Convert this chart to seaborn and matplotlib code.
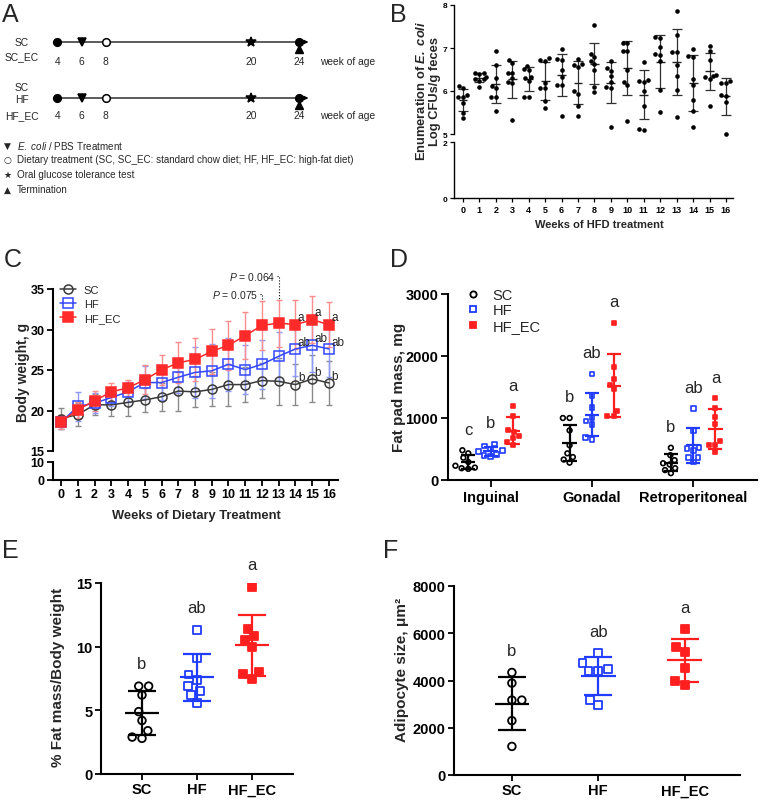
import numpy as np
import pandas as pd
import matplotlib
matplotlib.use("Agg")
import matplotlib.pyplot as plt
from matplotlib.lines import Line2D
import seaborn as sns

sns.set_theme(style="ticks")
plt.rcParams["font.family"] = ["Liberation Sans", "DejaVu Sans"]
plt.rcParams["mathtext.fontset"] = "custom"
plt.rcParams["mathtext.rm"] = "Liberation Sans"
plt.rcParams["mathtext.it"] = "Liberation Sans:italic"
plt.rcParams["mathtext.bf"] = "Liberation Sans:bold"
HAS_BFIT = "mathtext.bfit" in plt.rcParams
if HAS_BFIT:
    plt.rcParams["mathtext.bfit"] = "Liberation Sans:italic:bold"
plt.rcParams["axes.edgecolor"] = "black"
plt.rcParams["xtick.color"] = "black"
plt.rcParams["ytick.color"] = "black"

# ---- data ----
# A: study timeline (week of age)
event_weeks = [4, 6, 8, 20, 24]
event_markers = ["o", "v", "o", "*", "o"]
event_filled = [True, True, False, True, True]
row1_labels = ["SC", "SC_EC"]
row2_labels = ["SC", "HF", "HF_EC"]

# B: fecal E. coli, log CFU/g, per week of HFD
b_weeks = list(range(17))
cfu_w0 = [6.07, 6.11, 5.90, 5.85, 5.87, 5.72, 5.50, 5.37]
cfu_w1 = [6.42, 6.40, 6.41, 6.32, 6.29, 6.28, 6.24, 6.10]
cfu_w2 = [6.92, 6.61, 6.30, 6.12, 6.06, 5.87, 5.87, 5.54]
cfu_w3 = [6.72, 6.64, 6.42, 6.42, 6.30, 6.18, 6.20, 5.33]
cfu_w4 = [6.59, 6.51, 6.49, 6.30, 6.33, 6.24, 5.85, 5.87]
cfu_w5 = [6.71, 6.70, 6.76, 6.18, 6.07, 6.07, 5.76, 5.60]
cfu_w6 = [6.97, 6.74, 6.71, 6.50, 6.33, 6.14, 6.14, 5.41]
cfu_w7 = [6.75, 6.62, 6.60, 6.00, 5.93, 5.66, 5.43, 6.55]
cfu_w8 = [7.53, 6.87, 6.80, 6.62, 6.50, 6.10, 5.98, 6.70]
cfu_w9 = [6.47, 6.69, 6.36, 6.22, 6.09, 6.06, 5.16, 6.53]
cfu_w10 = [7.11, 7.12, 6.92, 6.92, 6.22, 6.14, 5.31, 6.50]
cfu_w11 = [6.68, 6.24, 6.22, 6.01, 5.64, 5.10, 5.12, 6.25]
cfu_w12 = [7.26, 7.24, 7.03, 6.85, 6.84, 6.70, 6.02, 5.52]
cfu_w13 = [7.87, 7.31, 6.90, 6.90, 6.60, 6.36, 6.03, 5.40]
cfu_w14 = [6.98, 6.81, 6.78, 6.28, 6.14, 5.79, 5.54, 5.16]
cfu_w15 = [7.04, 6.92, 6.72, 6.32, 6.37, 6.34, 6.28, 5.64]
cfu_w16 = [6.19, 6.19, 6.24, 5.88, 5.90, 5.74, 5.00]
cfu_by_week = [cfu_w0, cfu_w1, cfu_w2, cfu_w3, cfu_w4, cfu_w5, cfu_w6, cfu_w7, cfu_w8,
               cfu_w9, cfu_w10, cfu_w11, cfu_w12, cfu_w13, cfu_w14, cfu_w15, cfu_w16]

# C: body weight (mean, SD)
c_weeks = list(range(17))
sc_bw = [19.0, 19.5, 20.7, 20.7, 21.0, 21.3, 21.7, 22.4, 22.3, 22.6, 23.2, 23.2, 23.7, 23.6, 23.2, 23.9, 23.4]
sc_sd = [1.3, 1.4, 1.3, 1.4, 1.7, 1.5, 1.7, 2.4, 1.9, 2.1, 2.6, 2.2, 2.2, 2.9, 2.5, 2.9, 2.7]
hf_bw = [18.55, 20.5, 20.9, 21.6, 22.3, 23.45, 23.45, 24.1, 24.7, 24.9, 25.7, 25.05, 25.7, 26.7, 27.6, 28.05, 27.6]
hf_sd = [0.8, 1.8, 1.2, 1.0, 1.2, 2.0, 2.2, 2.0, 3.2, 3.3, 3.3, 3.0, 3.0, 3.0, 3.4, 3.3, 3.5]
hfec_bw = [18.6, 20.1, 21.2, 22.3, 22.8, 23.8, 25.0, 25.9, 26.3, 27.3, 28.05, 29.25, 30.5, 30.8, 30.6, 31.2, 30.6]
hfec_sd = [0.9, 1.0, 1.2, 1.1, 1.0, 1.8, 1.8, 2.5, 2.6, 2.8, 3.0, 2.9, 3.0, 2.9, 3.0, 2.9, 2.8]
c_letter_weeks = [14, 15, 16]
c_letters = {"SC": ["b", "b", "b"], "HF": ["ab", "ab", "ab"], "HF_EC": ["a", "a", "a"]}
p_weeks = [12, 13]
p_labels = ["0.075", "0.064"]

# D: fat pad mass, mg
groups = ["SC", "HF", "HF_EC"]
depots = ["Inguinal", "Gonadal", "Retroperitoneal"]
ing_sc = [480, 430, 360, 290, 230, 200, 180, 190]
ing_hf = [580, 550, 500, 470, 455, 415, 380, 390]
ing_hfec = [1190, 1040, 800, 780, 710, 610, 570, 680]
gon_sc = [1000, 1000, 800, 560, 430, 370, 330, 280]
gon_hf = [1710, 1360, 1170, 950, 1010, 900, 650, 690]
gon_hfec = [2540, 1830, 1630, 1540, 1460, 1120, 1030, 1040]
ret_sc = [520, 400, 320, 270, 190, 160, 110, 250]
ret_hf = [1150, 800, 520, 510, 470, 360, 360, 290]
ret_hfec = [1320, 1160, 1020, 900, 630, 560, 560, 450]
d_values = [[ing_sc, ing_hf, ing_hfec], [gon_sc, gon_hf, gon_hfec], [ret_sc, ret_hf, ret_hfec]]
d_letters = [["c", "b", "a"], ["b", "ab", "a"], ["b", "ab", "a"]]

# E: % fat mass / body weight
pct_sc = [6.9, 6.9, 6.2, 4.9, 4.2, 3.4, 2.8, 2.9]
pct_hf = [11.3, 9.1, 7.8, 7.4, 6.9, 6.5, 6.2, 5.6]
pct_hfec = [14.7, 11.4, 10.8, 10.5, 10.0, 8.0, 7.5, 7.85]
e_letters = ["b", "ab", "a"]

# F: adipocyte size, um^2
adi_sc = [4340, 3890, 3170, 3170, 2300, 1210]
adi_hf = [5155, 4730, 4410, 4410, 4480, 2960, 3180]
adi_hfec = [6170, 5210, 5420, 4520, 3820, 3960]
f_letters = ["b", "ab", "a"]

# ---- styles ----
group_color = {"SC": "#000000", "HF": "#1f3cff", "HF_EC": "#ff1f1f"}
group_marker = {"SC": "o", "HF": "s", "HF_EC": "s"}
group_hollow = {"SC": True, "HF": True, "HF_EC": False}
line_color = {"SC": "#3a3a3a", "HF": "#3347ff", "HF_EC": "#ff2a2a"}
err_color = {"SC": "#8a8a8a", "HF": "#8c98ff", "HF_EC": "#ff8c8c"}

W, H = 760, 803
fig = plt.figure(figsize=(W / 100, H / 100), dpi=100)


def box(l, t, r, b):
    return [l / W, 1 - b / H, (r - l) / W, (b - t) / H]


def ftext(x, y, s, **kw):
    fig.text(x / W, 1 - y / H, s, **kw)


def style_axis(ax, size, spine_w=1.5, tick_w=1.3, tick_l=4):
    ax.tick_params(labelsize=size, width=tick_w, length=tick_l, pad=2)
    for sp in ax.spines.values():
        sp.set_linewidth(spine_w)
    for lbl in ax.get_xticklabels() + ax.get_yticklabels():
        lbl.set_fontweight("bold")
    ax.set_xlabel("")
    ax.set_ylabel("")


def dot_groups(ax, values, positions, half, cap, size, edge=1.3):
    tops = []
    for vals, pos, grp in zip(values, positions, groups):
        col = group_color[grp]
        df = pd.DataFrame({"pos": pos, "val": vals})
        sns.swarmplot(data=df, x="pos", y="val", orient="x", native_scale=True,
                      marker=group_marker[grp], color=col, size=size,
                      linewidth=edge, edgecolor=col, ax=ax, legend=False, zorder=3)
        pts = ax.collections[-1]
        if group_hollow[grp]:
            pts.set_facecolor("none")
        m, s = np.mean(vals), np.std(vals, ddof=1)
        ax.errorbar(pos, m, yerr=s, fmt="none", ecolor=col, elinewidth=1.6,
                    capsize=cap, capthick=1.6, zorder=2)
        ax.hlines(m, pos - half, pos + half, color=col, lw=1.6, zorder=2)
        tops.append(max(vals))
    return tops


# ---- panel letters ----
for letter, x, y in [("A", 2, 22), ("B", 390, 22), ("C", 4, 267), ("D", 390, 267),
                     ("E", 2, 558), ("F", 383, 558)]:
    ftext(x, y, letter, fontsize=18, ha="left", va="baseline")

# ---- A: timeline ----
axA = fig.add_axes(box(0, 0, 380, 200))
axA.set_xlim(-0.744, 30.66)
axA.set_ylim(200, 0)
axA.axis("off")
for row_y, num_y in [(43, 62), (99, 116)]:
    axA.annotate("", xy=(24.75, row_y), xytext=(event_weeks[0], row_y),
                 arrowprops=dict(arrowstyle="-|>,head_length=0.4,head_width=0.2",
                                 mutation_scale=6, color="black", lw=0.9,
                                 shrinkA=0, shrinkB=0))
    for wk, mk, filled in zip(event_weeks, event_markers, event_filled):
        axA.plot(wk, row_y, marker=mk, ms=7.5 if mk == "*" else 5.5, color="black",
                 mfc="black" if filled else "white", mew=1.1, zorder=3)
        axA.text(wk, num_y, str(wk), ha="center", va="center", fontsize=7.4)
    axA.plot(event_weeks[-1], row_y + 7, marker="^", ms=5.5, color="black", zorder=3)
    ftext(320, num_y, "week of age", ha="left", va="center", fontsize=7.4)
for lbl, y in zip(row1_labels, [43, 57]):
    ftext(22, y, lbl, ha="center", va="center", fontsize=7.4)
for lbl, y in zip(row2_labels, [88, 100, 116]):
    ftext(22, y, lbl, ha="center", va="center", fontsize=7.4)

legend_rows = [("\u25BC", r"$\mathit{E.\ coli}$ / PBS Treatment", 146),
               ("\u25CB", "Dietary treatment (SC, SC_EC: standard chow diet; HF, HF_EC: high-fat diet)", 160),
               ("\u2605", "Oral glucose tolerance test", 175),
               ("\u25B2", "Termination", 190)]
for sym, txt, y in legend_rows:
    ftext(7, y, sym, ha="center", va="center", fontsize=6.5, family="DejaVu Sans")
    ftext(17, y, txt, ha="left", va="center", fontsize=7.1)

# ---- B: E. coli counts ----
axB = fig.add_axes(box(454, 6, 733, 135))
axB0 = fig.add_axes(box(454, 143, 733, 199))
dfB = pd.DataFrame({"week": np.repeat(b_weeks, [len(v) for v in cfu_by_week]),
                    "cfu": np.concatenate(cfu_by_week)})
sns.swarmplot(data=dfB, x="week", y="cfu", orient="x", native_scale=True,
              color="black", size=3.3, ax=axB, zorder=3)
axB.collections[-1].set_clip_on(False)
b_mean = np.array([np.mean(v) for v in cfu_by_week])
b_sd = np.array([np.std(v, ddof=1) for v in cfu_by_week])
bw = np.array(b_weeks)
axB.errorbar(bw, b_mean, yerr=b_sd, fmt="none", ecolor="#303030", elinewidth=0.9,
             capsize=3.5, capthick=0.9, zorder=2)
axB.hlines(b_mean, bw - 0.27, bw + 0.27, color="#202020", lw=1.0, zorder=2)
for ax in (axB, axB0):
    ax.set_xlim(-0.55, 16.43)
    ax.spines["top"].set_visible(False)
    ax.spines["right"].set_visible(False)
axB.set_ylim(5, 8)
axB.set_yticks([5, 6, 7, 8])
axB.spines["bottom"].set_visible(False)
axB.tick_params(axis="x", bottom=False, labelbottom=False)
axB0.set_ylim(0, 2)
axB0.set_yticks([0, 2])
axB0.set_xticks(b_weeks)
style_axis(axB, 6, spine_w=1.0, tick_w=0.9, tick_l=3)
style_axis(axB0, 6.5, spine_w=1.0, tick_w=0.9, tick_l=3)
axB.tick_params(axis="y", labelsize=6)
axB0.tick_params(axis="y", labelsize=6)
ecoli = r"$\mathbfit{E.\ coli}$" if HAS_BFIT else r"$\mathit{E.\ coli}$"
ftext(428, 91, "Enumeration of " + ecoli + "\nLog CFUs/g feces", rotation=90,
      ha="center", va="center", fontsize=9.3, fontweight="bold", linespacing=1.05)
ftext(599, 225, "Weeks of HFD treatment", ha="center", va="center", fontsize=8, fontweight="bold")

# ---- C: body weight ----
axC = fig.add_axes(box(53, 290, 338, 452))
axC0 = fig.add_axes(box(53, 463, 338, 481))
c_series = {"SC": (sc_bw, sc_sd), "HF": (hf_bw, hf_sd), "HF_EC": (hfec_bw, hfec_sd)}
for grp in groups:
    mean, sd = c_series[grp]
    axC.errorbar(c_weeks, mean, yerr=sd, fmt="none", ecolor=err_color[grp], elinewidth=1.0,
                 capsize=2.5, capthick=1.0, zorder=1)
    sns.lineplot(x=c_weeks, y=mean, color=line_color[grp], lw=1.1, marker=group_marker[grp],
                 markersize=6.5, markeredgecolor=line_color[grp], markeredgewidth=1.1,
                 markerfacecolor="none" if group_hollow[grp] else line_color[grp],
                 label=grp, ax=axC, zorder=3)
    for wk, lt in zip(c_letter_weeks, c_letters[grp]):
        axC.text(wk + 0.15, mean[wk] + 0.9, lt, ha="left", va="center", fontsize=8.5)
for wk, lab, y_txt in zip(p_weeks, p_labels, [34.4, 36.6]):
    top = hfec_bw[wk] + hfec_sd[wk]
    axC.plot([wk - 0.1, wk, wk], [y_txt, y_txt, top], ls=":", color="black", lw=0.8, clip_on=False)
    axC.text(wk - 0.2, y_txt, r"$\mathit{P}$ = " + lab, ha="right", va="center", fontsize=7.5)
axC.legend(loc="upper left", bbox_to_anchor=(60 / W, 1 - 286 / H), bbox_transform=fig.transFigure,
           frameon=False, fontsize=8, handlelength=1.45, handletextpad=0.7, labelspacing=0.35,
           borderpad=0, borderaxespad=0)
for ax in (axC, axC0):
    ax.set_xlim(-0.48, 16.54)
    ax.spines["top"].set_visible(False)
    ax.spines["right"].set_visible(False)
axC.set_ylim(15, 35)
axC.set_yticks([15, 20, 25, 30, 35])
axC.spines["bottom"].set_visible(False)
axC.tick_params(axis="x", bottom=False, labelbottom=False)
axC0.set_ylim(0, 10)
axC0.set_yticks([0, 10])
axC0.set_xticks(c_weeks)
style_axis(axC, 9)
style_axis(axC0, 9)
ftext(23, 372, "Body weight, g", rotation=90, ha="center", va="center", fontsize=10, fontweight="bold")
ftext(196, 516, "Weeks of Dietary Treatment", ha="center", va="center", fontsize=9.3, fontweight="bold")

# ---- D: fat pad mass ----
axD = fig.add_axes(box(448, 295, 757, 481))
for di, (vals3, lets) in enumerate(zip(d_values, d_letters)):
    pos3 = [di + (gi - 1) * 0.22 for gi in range(3)]
    tops = dot_groups(axD, vals3, pos3, half=0.07, cap=5, size=3.4, edge=1.2)
    for p, t, lt in zip(pos3, tops, lets):
        axD.text(p, t + 340, lt, ha="center", va="center", fontsize=12)
axD.set_xlim(-0.42, 2.63)
axD.set_ylim(0, 3000)
axD.set_yticks([0, 1000, 2000, 3000])
axD.set_xticks([0, 1, 2])
axD.set_xticklabels(depots)
axD.spines["top"].set_visible(False)
axD.spines["right"].set_visible(False)
style_axis(axD, 10.5, tick_l=5)
handles = [Line2D([], [], ls="none", marker=group_marker[g], ms=4.5, mew=1.3,
                  mec=group_color[g], mfc="none" if group_hollow[g] else group_color[g]) for g in groups]
axD.legend(handles, groups, loc="upper left", bbox_to_anchor=(466 / W, 1 - 289 / H),
           bbox_transform=fig.transFigure, frameon=False, fontsize=10.5, handlelength=1.0,
           handletextpad=0.8, labelspacing=0.1, borderpad=0, borderaxespad=0)
ftext(399, 387, "Fat pad mass, mg", rotation=90, ha="center", va="center", fontsize=11, fontweight="bold")

# ---- E: % fat mass ----
axE = fig.add_axes(box(101, 584, 293, 775))
tops = dot_groups(axE, [pct_sc, pct_hf, pct_hfec], [0, 1, 2], half=0.31, cap=10, size=5.5)
for p, t, lt in zip([0, 1, 2], tops, e_letters):
    axE.text(p, t + 1.75, lt, ha="center", va="center", fontsize=12)
axE.set_xlim(-0.745, 2.745)
axE.set_ylim(0, 15)
axE.set_yticks([0, 5, 10, 15])
axE.set_xticks([0, 1, 2])
axE.set_xticklabels(groups)
axE.spines["top"].set_visible(False)
axE.spines["right"].set_visible(False)
style_axis(axE, 10.5, tick_l=4)
ftext(58, 677, "% Fat mass/Body weight", rotation=90, ha="center", va="center", fontsize=11, fontweight="bold")

# ---- F: adipocyte size ----
axF = fig.add_axes(box(454, 587, 740, 776))
tops = dot_groups(axF, [adi_sc, adi_hf, adi_hfec], [0, 1, 2], half=0.2, cap=10, size=5.5)
for p, t, lt in zip([0, 1, 2], tops, f_letters):
    axF.text(p, t + 920, lt, ha="center", va="center", fontsize=12)
axF.set_xlim(-0.67, 2.64)
axF.set_ylim(0, 8000)
axF.set_yticks([0, 2000, 4000, 6000, 8000])
axF.set_xticks([0, 1, 2])
axF.set_xticklabels(groups)
axF.spines["top"].set_visible(False)
axF.spines["right"].set_visible(False)
style_axis(axF, 10.5, tick_l=4)
ftext(402, 670, "Adipocyte size, \u03bcm\u00b2", rotation=90, ha="center", va="center", fontsize=11, fontweight="bold")

fig.savefig("out.png", dpi=100)
